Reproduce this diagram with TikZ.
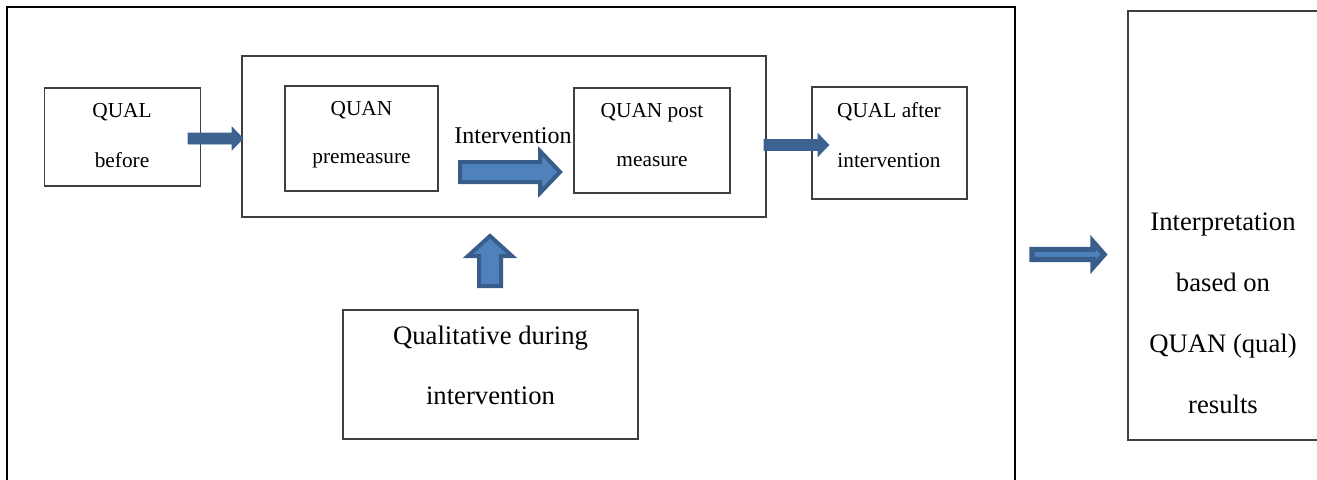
\documentclass[tikz,border=0pt]{standalone}
\usepackage{fontspec}
\setmainfont{Liberation Serif}
\definecolor{arrfill}{HTML}{4F81BD}
\definecolor{arrline}{HTML}{385D8A}
\definecolor{arrdark}{HTML}{3C6291}
\definecolor{boxline}{HTML}{404040}
\begin{document}
\begin{tikzpicture}[x=0.75pt,y=-0.75pt,
  box/.style={draw=boxline,line width=1.1pt,inner sep=0pt},
  smalltxt/.style={anchor=base,inner sep=0pt,font=\fontsize{16}{19}\selectfont},
  bigtxt/.style={anchor=base,inner sep=0pt,font=\fontsize{20}{24}\selectfont},
  midtxt/.style={anchor=base,inner sep=0pt,font=\fontsize{18}{21}\selectfont},
  solidarrow/.style={fill=arrdark,draw=arrdark,line width=0.4pt},
  blockarrow/.style={fill=arrfill,draw=arrline,line width=3pt,line join=miter},
  thinblock/.style={fill=arrfill,draw=arrline,line width=4pt,line join=miter}]
\useasboundingbox (0,0) rectangle (1317,479);
% outer frame (open at bottom)
\draw[line width=1.6pt,black] (7,485) -- (7,7) -- (1015,7) -- (1015,485);
% right frame (open at right)
\draw[line width=1.2pt,boxline] (1322,11) -- (1128,11) -- (1128,440) -- (1322,440);
% boxes
\node[box,minimum width=117pt,minimum height=73.5pt] (qb) at (122.5,137) {};
\node[box,line width=1.3pt,minimum width=393pt,minimum height=120.75pt] (big) at (504,136.5) {};
\node[box,minimum width=114.75pt,minimum height=78.75pt] (qpre) at (361.5,138.5) {};
\node[box,minimum width=117pt,minimum height=78.75pt] (qpost) at (652,140.5) {};
\node[box,minimum width=116.25pt,minimum height=84pt] (qaft) at (889.5,143) {};
\node[box,minimum width=221.25pt,minimum height=96.75pt] (qdur) at (490.5,374.5) {};
% texts
\node[smalltxt] (t1) at (122,117) {QUAL};
\node[smalltxt] (t2) at (122,167) {before};
\node[smalltxt] (t3) at (361.5,115) {QUAN};
\node[smalltxt] (t4) at (361.5,163) {premeasure};
\node[smalltxt] (t5) at (652,117) {QUAN post};
\node[smalltxt] (t6) at (652,166) {measure};
\node[smalltxt] (t7) at (889,117) {QUAL after};
\node[smalltxt] (t8) at (889,167) {intervention};
\node[midtxt] (t9) at (513,143) {Intervention};
\node[bigtxt] (t10) at (490.5,344) {Qualitative during};
\node[bigtxt] (t11) at (490.5,404) {intervention};
\node[bigtxt] (t12) at (1223,230) {Interpretation};
\node[bigtxt] (t13) at (1223,291) {based on};
\node[bigtxt] (t14) at (1223,352) {QUAN (qual)};
\node[bigtxt] (t15) at (1223,413) {results};
% arrows
\draw[solidarrow] (188,133) -- (232,133) -- (232,127) -- (243,138.5) -- (232,150) -- (232,144) -- (188,144) -- cycle;
\draw[solidarrow] (764,139.5) -- (818,139.5) -- (818,133.5) -- (829,145) -- (818,156.5) -- (818,150.5) -- (764,150.5) -- cycle;
\draw[blockarrow] (460,162) -- (540,162) -- (540,151) -- (560,172) -- (540,193) -- (540,182) -- (460,182) -- cycle;
\draw[blockarrow] (479,286) -- (479,256) -- (468,256) -- (490,236) -- (512,256) -- (501,256) -- (501,286) -- cycle;
\draw[thinblock] (1032,249.5) -- (1093,249.5) -- (1093,242) -- (1104,254.5) -- (1093,267) -- (1093,259.5) -- (1032,259.5) -- cycle;
\end{tikzpicture}
\end{document}
